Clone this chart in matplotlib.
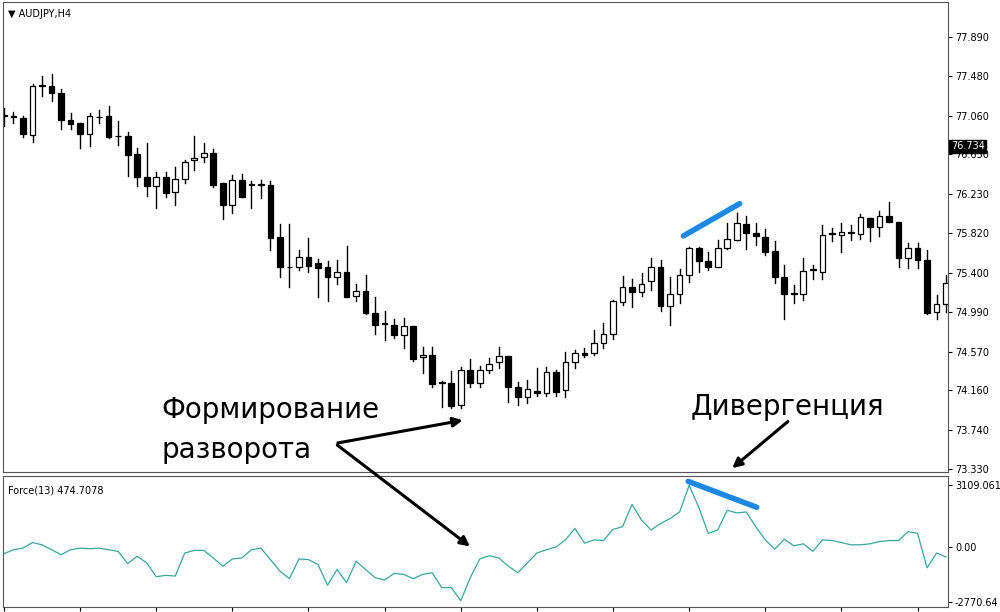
import matplotlib
matplotlib.use("Agg")
import matplotlib.pyplot as plt
import numpy as np
from matplotlib.patches import Rectangle

opens = [77.07,77.045,77.035,76.855,77.373,77.373,77.30,77.01,76.98,76.87,77.04,77.06,76.84,76.84,76.65,76.41,76.32,76.41,76.25,76.39,
         76.59,76.62,76.67,76.35,76.12,76.38,76.33,76.33,76.33,75.78,75.46,75.46,75.57,75.50,75.46,75.36,75.41,75.16,75.21,74.98,
         74.86,74.85,74.74,74.84,74.51,74.53,74.24,74.24,74.01,74.37,74.24,74.37,74.46,74.52,74.20,74.09,74.15,74.13,74.35,74.16,
         74.46,74.55,74.55,74.66,74.76,75.09,75.25,75.20,75.31,75.46,75.05,75.18,75.38,75.66,75.52,75.46,75.66,75.75,75.92,75.82,
         75.78,75.63,75.36,75.19,75.18,75.43,75.41,75.81,75.80,75.83,75.81,75.98,75.88,76.00,75.94,75.56,75.66,75.54,74.99,75.07]
closes = [77.06,77.045,76.866,77.373,77.373,77.30,77.01,76.97,76.87,77.05,77.04,76.83,76.84,76.64,76.41,76.32,76.41,76.24,76.39,76.57,
          76.61,76.66,76.33,76.12,76.38,76.20,76.33,76.33,75.77,75.46,75.46,75.57,75.47,75.45,75.36,75.41,75.15,75.21,74.98,74.85,
          74.86,74.74,74.84,74.49,74.53,74.23,74.24,74.00,74.38,74.24,74.37,74.44,74.52,74.20,74.09,74.17,74.13,74.35,74.14,74.46,
          74.55,74.53,74.66,74.76,75.10,75.25,75.20,75.28,75.46,75.05,75.18,75.38,75.66,75.52,75.46,75.66,75.76,75.93,75.82,75.79,
          75.62,75.36,75.18,75.18,75.42,75.43,75.80,75.81,75.83,75.82,75.99,75.88,76.00,75.94,75.56,75.66,75.54,74.98,75.07,75.29]
highs = [77.14,77.10,77.05,77.39,77.48,77.50,77.34,77.09,76.98,77.09,77.12,77.16,77.00,76.89,76.72,76.77,76.46,76.46,76.52,76.59,
         76.84,76.77,76.71,76.35,76.43,76.44,76.37,76.38,76.37,75.92,75.92,75.64,75.77,75.55,75.53,75.54,75.68,75.28,75.38,75.15,
         75.00,74.91,74.92,74.84,74.62,74.62,74.26,74.36,74.41,74.49,74.42,74.50,74.62,74.52,74.25,74.27,74.40,74.41,74.37,74.56,
         74.59,74.61,74.80,74.87,75.11,75.37,75.33,75.40,75.56,75.54,75.36,75.44,75.67,75.67,75.62,75.75,75.93,76.03,76.00,75.93,
         75.86,75.74,75.48,75.27,75.56,75.48,75.90,75.87,75.93,75.90,76.02,75.98,76.05,76.15,75.94,75.72,75.72,75.64,75.17,75.38]
lows = [76.95,76.98,76.83,76.78,77.27,77.21,76.92,76.92,76.72,76.74,76.98,76.82,76.75,76.42,76.32,76.21,76.08,76.20,76.12,76.35,
        76.49,76.57,76.31,75.97,76.03,76.20,76.08,76.19,75.64,75.36,75.25,75.43,75.41,75.15,75.10,75.28,75.15,75.10,74.97,74.76,
        74.69,74.71,74.61,74.47,74.34,74.20,73.98,73.97,73.97,74.20,74.20,74.34,74.40,74.04,74.01,74.03,74.10,74.10,74.10,74.09,
        74.40,74.51,74.53,74.61,74.70,75.06,75.04,75.16,75.22,75.00,74.85,75.08,75.30,75.41,75.43,75.46,75.65,75.75,75.65,75.69,
        75.59,75.29,74.91,75.08,75.11,75.34,75.34,75.74,75.62,75.75,75.76,75.74,75.79,75.94,75.46,75.45,75.45,74.97,74.91,74.99]

force = [-330,-132,-50,231,116,-132,-380,-132,-50,-83,-50,-132,-215,-825,-462,-792,-1485,-1419,-1452,-297,
         -165,-165,-545,-957,-594,-545,-132,-50,-627,-1205,-1584,-594,-627,-875,-1914,-1122,-1782,-710,-1122,-1535,
         -1650,-1320,-1370,-1584,-1370,-1287,-2030,-2030,-2690,-1535,-594,-429,-545,-957,-1287,-792,-297,-132,0,363,
         941,198,363,330,891,1023,2145,1353,858,1188,1436,1766,3100,2013,693,858,1848,1716,1766,1023,
         363,-99,396,66,165,-215,363,330,231,116,116,165,281,330,330,776,693,-1040,-297,-495]

price_ticks = [77.890,77.480,77.060,76.650,76.230,75.820,75.400,74.990,74.570,74.160,73.740,73.330]
force_ticks = [3109.061,0.0,-2770.64]
force_labels = ["3109.061","0.00","-2770.64"]

fig = plt.figure(figsize=(10,6.12), dpi=100)
ax1 = fig.add_axes([0.003,0.229,0.945,0.768])
ax2 = fig.add_axes([0.003,0.008,0.945,0.214])
ax1.set_zorder(3)
ax1.patch.set_alpha(0)

w = 0.6
for i,(o,h,l,c) in enumerate(zip(opens,highs,lows,closes)):
    ax1.plot([i,i],[l,h],color='black',lw=1,zorder=1)
    b = min(o,c); ht = max(abs(c-o),0.006)
    fc = 'white' if c >= o else 'black'
    ax1.add_patch(Rectangle((i-w/2,b),w,ht,facecolor=fc,edgecolor='black',lw=0.9,zorder=2))

ax1.set_xlim(-0.1,99.2)
ax1.set_ylim(73.30,78.26)
ax1.yaxis.tick_right()
ax1.set_yticks(price_ticks)
ax1.set_yticklabels([f"{v:.3f}" for v in price_ticks], fontsize=7)
ax1.set_xticks([])
ax1.tick_params(axis='y', length=3, pad=2)
ax1.text(0.005,0.985,"▼ AUDJPY,H4",transform=ax1.transAxes,fontsize=7,va='top')
ax1.text(1.003,(76.734-73.30)/(78.26-73.30),"76.734",transform=ax1.transAxes,fontsize=7,va='center',ha='left',
         color='white',bbox=dict(boxstyle='square,pad=0.15',fc='black',ec='black'))

xs = np.arange(len(force))
ax2.plot(xs,force,color='#3aa6a0',lw=0.9)
ax2.set_xlim(-0.1,99.2)
ax2.set_ylim(-3012,3564)
ax2.yaxis.tick_right()
ax2.set_yticks(force_ticks)
ax2.set_yticklabels(force_labels,fontsize=7)
ax2.set_xticks(np.arange(0,100,8))
ax2.set_xticklabels([])
ax2.tick_params(axis='x',length=3,direction='out')
ax2.tick_params(axis='y', length=3, pad=2)
ax2.text(0.005,0.93,"Force(13) 474.7078",transform=ax2.transAxes,fontsize=7,va='top')

for a in (ax1,ax2):
    for s in a.spines.values():
        s.set_color('#555555'); s.set_linewidth(0.8)

# annotations
ax1.plot([71.4,77.3],[75.79,76.13],color='#1e88e5',lw=4,solid_capstyle='round')
ax2.plot([71.9,79.1],[3300,2000],color='#1e88e5',lw=4,solid_capstyle='round')
ap = dict(arrowstyle='-|>',color='black',lw=2.2,mutation_scale=14)
ax1.annotate('',xy=(48.5,73.85),xytext=(34.8,73.60),arrowprops=ap,annotation_clip=False)
ax1.annotate('',xy=(49.2,-50),xycoords=ax2.transData,xytext=(34.8,73.60),textcoords='data',arrowprops=ap,annotation_clip=False)
ax1.annotate('',xy=(76.3,73.32),xytext=(82.6,73.85),arrowprops=ap,annotation_clip=False)
fig.text(0.161,1-410/612,"Формирование",fontsize=20,va='center',ha='left')
fig.text(0.161,1-450/612,"разворота",fontsize=20,va='center',ha='left')
fig.text(0.691,1-407/612,"Дивергенция",fontsize=20,va='center',ha='left')

fig.savefig("out.png",dpi=100)
